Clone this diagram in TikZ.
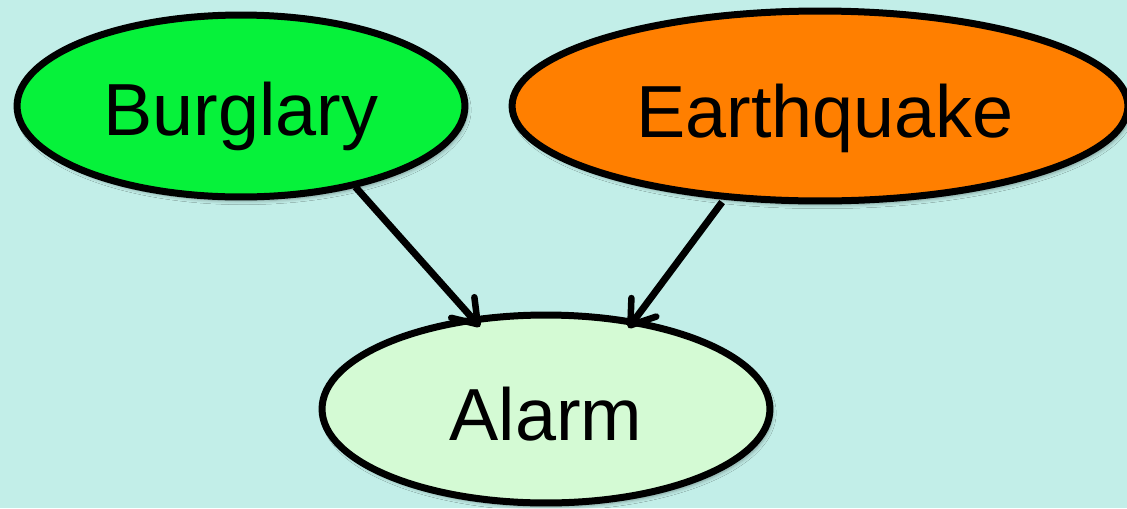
\documentclass[tikz,border=0pt]{standalone}
\usepackage{fontspec}
\setmainfont{Liberation Sans}
\usetikzlibrary{shapes.geometric,arrows.meta,shadows.blur}

\definecolor{bgcol}{HTML}{C2EEE8}
\definecolor{burgcol}{HTML}{06F23A}
\definecolor{quakecol}{HTML}{FF7F00}
\definecolor{alarmcol}{HTML}{D4FAD4}

\tikzset{
  event/.style={ellipse, draw=black, line width=0.14cm, inner sep=0pt, outer sep=0pt,
    blur shadow={shadow xshift=0.05cm, shadow yshift=-0.08cm, shadow blur steps=6, shadow opacity=35}},
  label/.style={anchor=base, inner sep=0pt, font=\fontsize{42}{50}\selectfont},
  edge/.style={line width=0.14cm, draw=black,
    -{Straight Barb[length=0.45cm, width=0.62cm, line width=0.13cm, round]}}
}

\begin{document}
\begin{tikzpicture}[x=0.02cm, y=-0.02cm]
  % canvas
  \fill[bgcol] (0,0) rectangle (1127,508);
  \useasboundingbox (0,0) rectangle (1127,508);

  % variables of the network
  \node[event, fill=burgcol, minimum width=8.96cm, minimum height=3.64cm] (bur) at (241,106) {};
  \node[event, fill=quakecol, minimum width=12.32cm, minimum height=3.8cm] (eq) at (820,106) {};
  \node[event, fill=alarmcol, minimum width=8.96cm, minimum height=3.76cm] (ala) at (546,409) {};

  \node[label] (burt) at (241,135) {Burglary};
  \node[label] (eqt) at (825,137) {Earthquake};
  \node[label] (alat) at (546,440) {Alarm};

  % causal links
  \draw[edge, shorten <=0.06cm, shorten >=-0.18cm] (bur.-35.3) -- (ala.129.7);
  \draw[edge, shorten <=0.14cm, shorten >=-0.14cm] (eq.-136.4) -- (ala.45.4);
\end{tikzpicture}
\end{document}
